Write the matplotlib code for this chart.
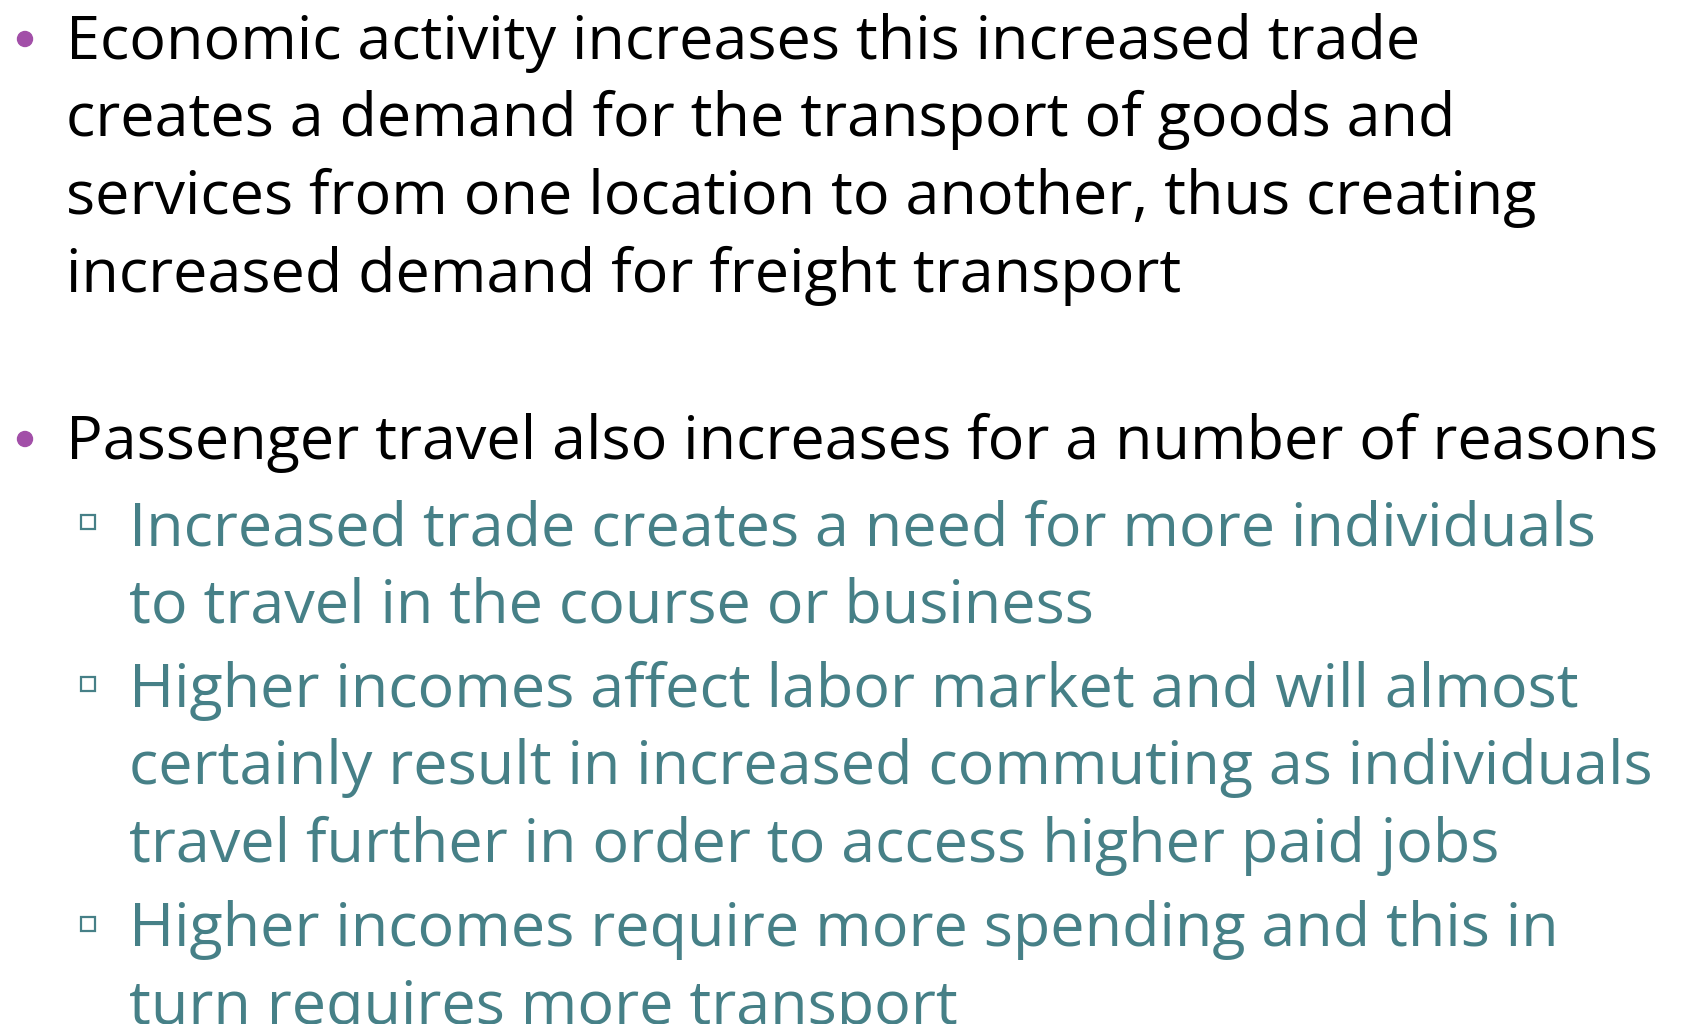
import matplotlib.pyplot as plt
from matplotlib.patches import Circle, Rectangle

# slide text, wrapped as in the picture
point1 = ["Economic activity increases this increased trade",
          "creates a demand for the transport of goods and",
          "services from one location to another, thus creating",
          "increased demand for freight transport"]
point2 = ["Passenger travel also increases for a number of reasons"]
sub_points = [
    ["Increased trade creates a need for more individuals",
     "to travel in the course or business"],
    ["Higher incomes affect labor market and will almost",
     "certainly result in increased commuting as individuals",
     "travel further in order to access higher paid jobs"],
    ["Higher incomes require more spending and this in",
     "turn requires more transport"],
]

W, H = 1691, 1024
fig = plt.figure(figsize=(W / 100, H / 100), dpi=100)
ax = fig.add_axes([0, 0, 1, 1])
ax.set_xlim(0, W); ax.set_ylim(H, 0); ax.axis('off')

FONT = 'Open Sans'
SIZE = 44
black = '#000000'
teal = '#468087'
purple = '#A24FA8'
step = 77.5

def main_point(lines, y0):
    ax.add_patch(Circle((25, y0 - 20), 7.5, color=purple))
    for i, s in enumerate(lines):
        ax.text(66, y0 + i * step, s, fontsize=SIZE, family=FONT,
                color=black, va='baseline', ha='left')

main_point(point1, 59)
main_point(point2, 459)

y = 545
for lines in sub_points:
    ax.add_patch(Rectangle((81, y - 30), 14, 14, fill=False,
                           edgecolor=teal, lw=1.6))
    for s in lines:
        ax.text(129, y, s, fontsize=SIZE, family=FONT, color=teal,
                va='baseline', ha='left')
        y += step
    y += 7

fig.savefig('out.png', dpi=100)
